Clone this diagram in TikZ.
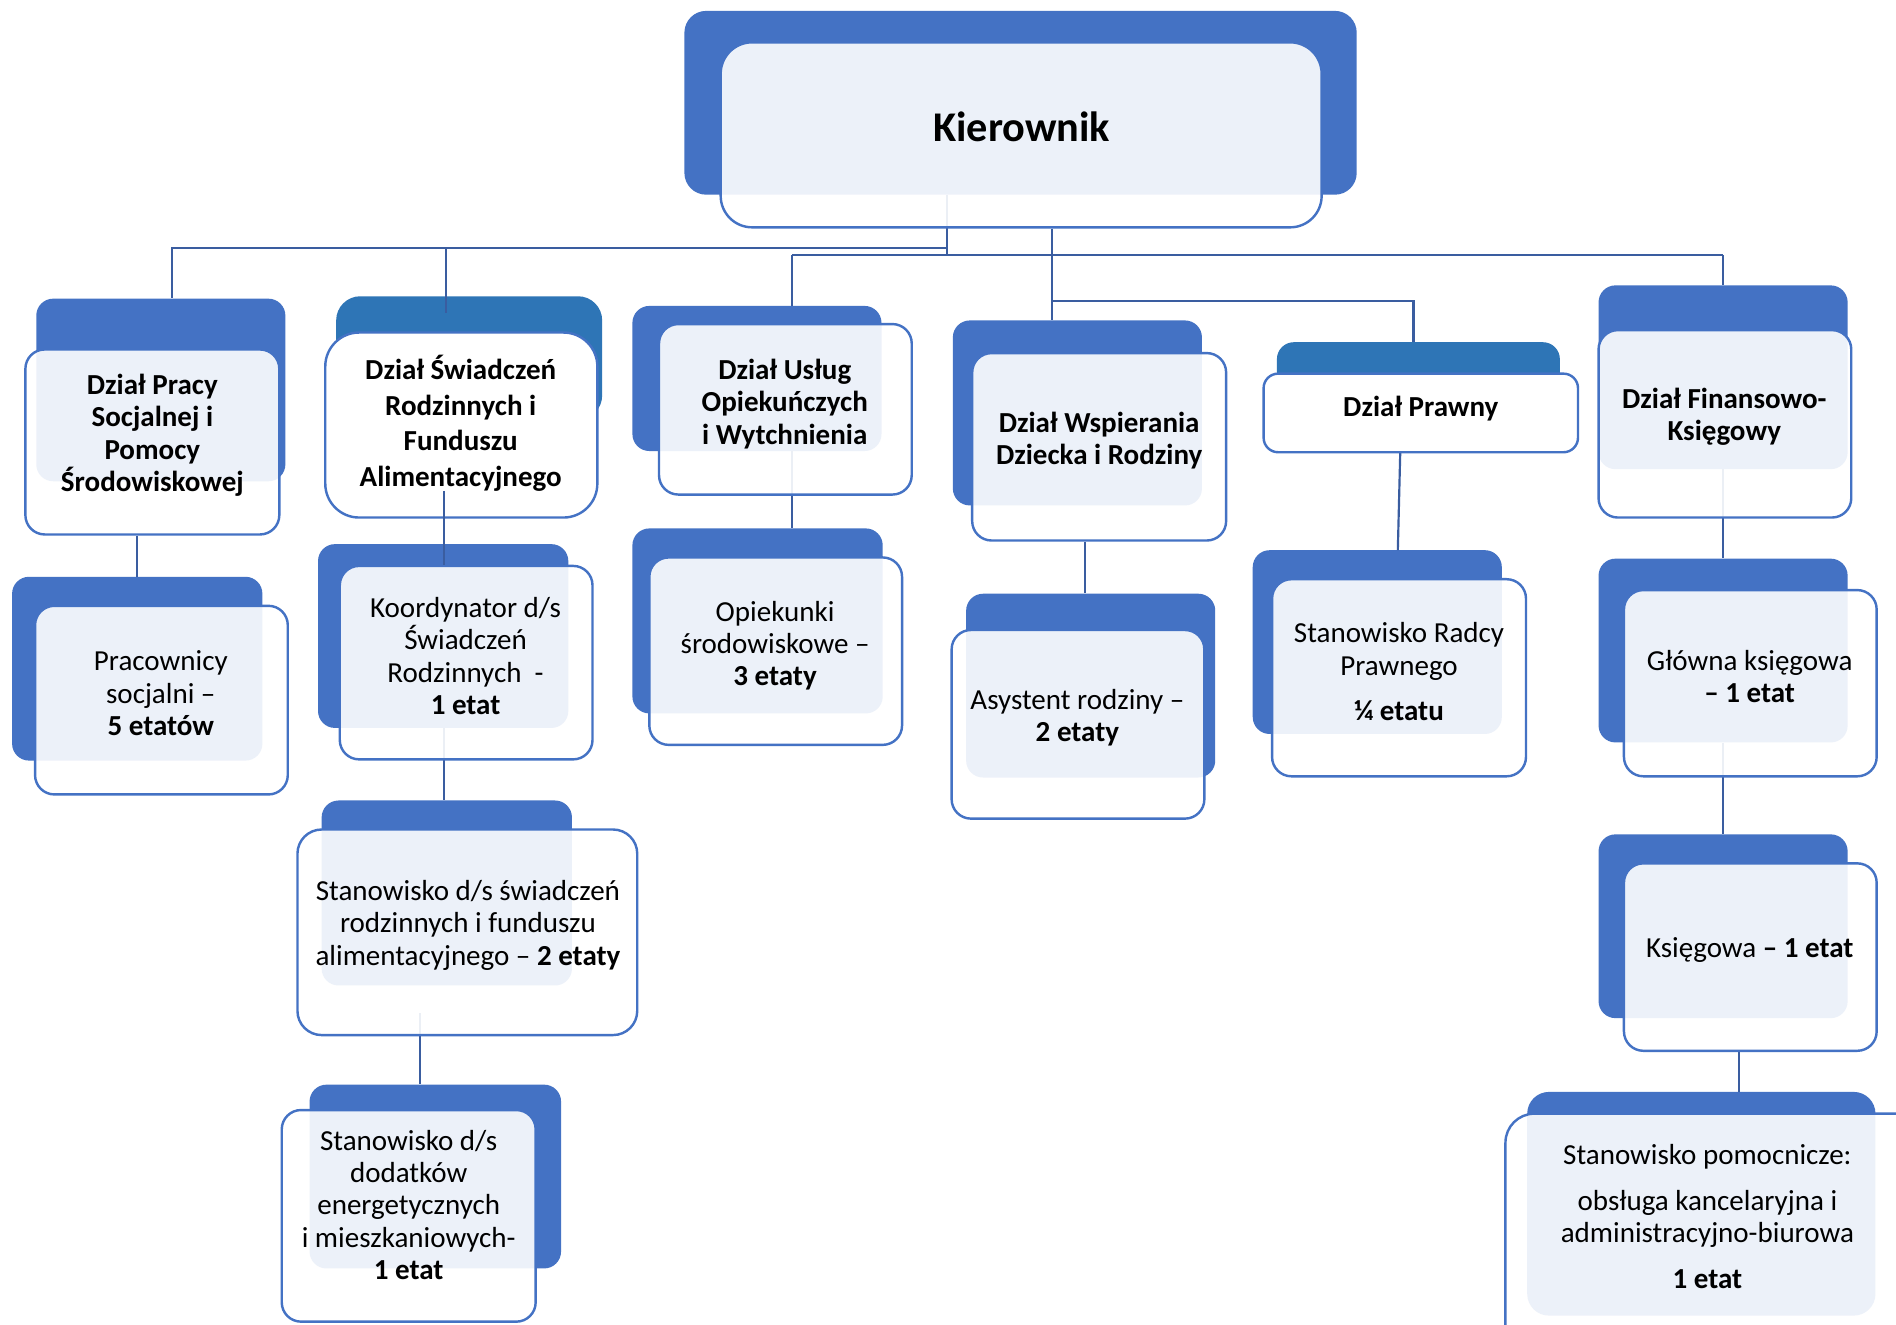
\documentclass[tikz,border=0pt]{standalone}
\usepackage{fontspec}
\setmainfont{Carlito}
\usetikzlibrary{fit}
\definecolor{dkblue}{HTML}{4472C4}
\definecolor{tealb}{HTML}{2E75B6}
\definecolor{lnblue}{HTML}{3A5DA0}
\pgfdeclarelayer{backlayer}
\pgfdeclarelayer{connlayer}
\pgfsetlayers{backlayer,connlayer,main}
\begin{document}
\begin{tikzpicture}[x=1pt,y=-1pt,
  backbox/.style={fill=dkblue, draw=none, rounded corners=14pt, inner sep=0pt, fit={#1}},
  backteal/.style={fill=tealb, draw=none, rounded corners=14pt, inner sep=0pt, fit={#1}},
  frontbox/.style={draw=dkblue, line width=2pt, fill=white, fill opacity=0.9, rounded corners=16pt, inner sep=0pt, fit={#1}},
  frontwhite/.style={draw=dkblue, line width=2pt, fill=white, rounded corners=16pt, inner sep=0pt, fit={#1}},
  conn/.style={draw=lnblue, line width=1.8pt},
  txt/.style={align=center, text=black, inner sep=0pt, font=\fontsize{24}{26.8}\selectfont},
  btxt/.style={txt, font=\fontsize{24}{26.8}\selectfont\bfseries}
]
\clip (0,0) rectangle (1568,1095);
\begin{pgfonlayer}{backlayer}
\fill[white] (0,0) rectangle (1568,1095);
% ---------- back boxes ----------
\node[backbox={(566,9)(1122,161)}, rounded corners=18pt] (kierB) {};
\node[backbox={(30,247)(236,398)}] (pracaB) {};
\node[backbox={(10,477)(217,629)}] (pracowB) {};
\node[backteal={(278,245)(498,347)}, rounded corners=20pt] (swB) {};
\node[backbox={(263,450)(470,602)}] (koordB) {};
\node[backbox={(266,662)(473,815)}] (stanB) {};
\node[backbox={(256,897)(464,1049)}] (dodB) {};
\node[backbox={(523,253)(729,373)}] (uslB) {};
\node[backbox={(523,437)(730,590)}] (opB) {};
\node[backbox={(788,265)(994,418)}] (wspB) {};
\node[backbox={(799,491)(1005,643)}] (asB) {};
\node[backteal={(1056,283)(1290,330)}] (prawB) {};
\node[backbox={(1036,455)(1242,607)}] (radB) {};
\node[backbox={(1322,236)(1528,388)}] (finB) {};
\node[backbox={(1322,462)(1528,614)}] (glB) {};
\node[backbox={(1322,690)(1528,842)}] (ksB) {};
\node[backbox={(1263,903)(1551,1088)}, rounded corners=18pt] (pomB) {};
\end{pgfonlayer}

% ---------- front boxes ----------
\node[frontbox={(596,35)(1093,188)}, rounded corners=26pt] (kierF) {};
\node[frontbox={(21,289)(231,442)}] (pracaF) {};
\node[frontbox={(29,501)(238,657)}] (pracowF) {};
\node[frontwhite={(269,275)(494,428)}, rounded corners=28pt] (swF) {};
\node[frontbox={(281,468)(490,628)}] (koordF) {};
\node[frontbox={(246,686)(527,856)}, rounded corners=20pt] (stanF) {};
\node[frontbox={(233,918)(443,1093)}] (dodF) {};
\node[frontbox={(545,268)(754,409)}] (uslF) {};
\node[frontbox={(537,461)(746,616)}] (opF) {};
\node[frontbox={(804,292)(1014,447)}] (wspF) {};
\node[frontbox={(787,521)(996,677)}] (asF) {};
\node[frontwhite={(1045,309)(1305,374)}, rounded corners=12pt] (prawF) {};
\node[frontbox={(1052,479)(1262,642)}] (radF) {};
\node[frontbox={(1322,273)(1531,428)}] (finF) {};
\node[frontbox={(1343,488)(1552,642)}] (glF) {};
\node[frontbox={(1343,714)(1552,869)}] (ksF) {};
\node[frontbox={(1245,921)(1610,1140)}, rounded corners=24pt] (pomF) {};

% ---------- junction coordinates ----------
\coordinate (j1) at (783,205);
\coordinate (j2) at (142,205);
\coordinate (j3) at (369,205);
\coordinate (j3e) at (369,259);
\coordinate (j4) at (783,211);
\coordinate (j5) at (655,211);
\coordinate (j6) at (1425,211);
\coordinate (j7) at (870,249);
\coordinate (j8) at (1169,249);
\coordinate (cPr) at (113,0);
\coordinate (cKo) at (367,0);
\coordinate (cSt) at (347,838);
\coordinate (cOp) at (655,0);
\coordinate (cAs) at (897,0);
\coordinate (cFi) at (1425,0);
\coordinate (cKs) at (1438,0);
\coordinate (cRa1) at (1158,374);
\coordinate (cRa2) at (1156,455);
\coordinate (cSw) at (367,406);

% ---------- connectors ----------
\begin{pgfonlayer}{connlayer}
\draw[conn] (kierB.south -| j1) -- (j4);
\draw[conn] (j1) -- (j2) -- (j2 |- pracaB.north);
\draw[conn, line width=1.2pt] (j3) -- (j3e);
\draw[conn] (j5) -- (j6);
\draw[conn] (j5) -- (j5 |- uslB.north);
\draw[conn] (j6) -- (j6 |- finB.north);
\draw[conn] (j7 |- kierF.south) -- (j7 |- wspB.north);
\draw[conn] (j7) -- (j8) -- (j8 |- prawB.north);
\draw[conn] (cPr |- pracaF.south) -- (cPr |- pracowB.north);
\draw[conn] (cKo |- koordB.south) -- (cKo |- stanB.north);
\draw[conn] (cSt) -- (cSt |- dodB.north);
\draw[conn] (cOp |- uslB.south) -- (cOp |- opB.north);
\draw[conn] (cAs |- wspF.south) -- (cAs |- asB.north);
\draw[conn] (cRa1) -- (cRa2);
\draw[conn] (cFi |- finB.south) -- (cFi |- glB.north);
\draw[conn] (cFi |- glB.south) -- (cFi |- ksB.north);
\draw[conn] (cKs |- ksF.south) -- (cKs |- pomB.north);
\end{pgfonlayer}

% connector visible inside the opaque white box
\draw[conn, line width=1.2pt] (cSw) -- (cSw |- koordF.north);

% ---------- texts ----------
\node[txt, font=\fontsize{35}{40}\selectfont\bfseries] (tKier) at (845,105) {Kierownik};
\node[btxt] (tPraca) at (126,360) {Dział Pracy\\Socjalnej i\\Pomocy\\Środowiskowej};
\node[txt] (tPracow) at (133,573.5) {Pracownicy\\socjalni –\\\textbf{5 etatów}};
\node[btxt, font=\fontsize{24}{29.5}\selectfont\bfseries] (tSw) at (381,350) {Dział Świadczeń\\Rodzinnych i\\Funduszu\\Alimentacyjnego};
\node[txt] (tKoord) at (385,542.5) {Koordynator d/s\\Świadczeń\\Rodzinnych\ \ -\\\textbf{1 etat}};
\node[txt] (tStan) at (387,765) {Stanowisko d/s świadczeń\\rodzinnych i funduszu\\alimentacyjnego – \textbf{2 etaty}};
\node[txt] (tDod) at (338,996.5) {Stanowisko d/s\\dodatków\\energetycznych\\i mieszkaniowych-\\\textbf{1 etat}};
\node[btxt] (tUsl) at (649,334) {Dział Usług\\Opiekuńczych\\i Wytchnienia};
\node[txt] (tOp) at (641,534) {Opiekunki\\środowiskowe –\\\textbf{3 etaty}};
\node[btxt] (tWsp) at (909,364.5) {Dział Wspierania\\Dziecka i Rodziny};
\node[txt] (tAs) at (891,593.5) {Asystent rodziny –\\\textbf{2 etaty}};
\node[btxt] (tPraw) at (1175,338) {Dział Prawny};
\node[txt] (tRad) at (1157,555.5) {Stanowisko Radcy\\Prawnego\\[11pt]\textbf{¼ etatu}};
\node[btxt] (tFin) at (1426,344.5) {Dział Finansowo-\\Księgowy};
\node[txt] (tGl) at (1447,559.5) {Główna księgowa\\\textbf{– 1 etat}};
\node[txt] (tKs) at (1447,786) {Księgowa \textbf{– 1 etat}};
\node[txt] (tPom) at (1412,1006) {Stanowisko pomocnicze:\\[11pt]obsługa kancelaryjna i\\administracyjno-biurowa\\[11pt]\textbf{1 etat}};
\end{tikzpicture}
\end{document}
